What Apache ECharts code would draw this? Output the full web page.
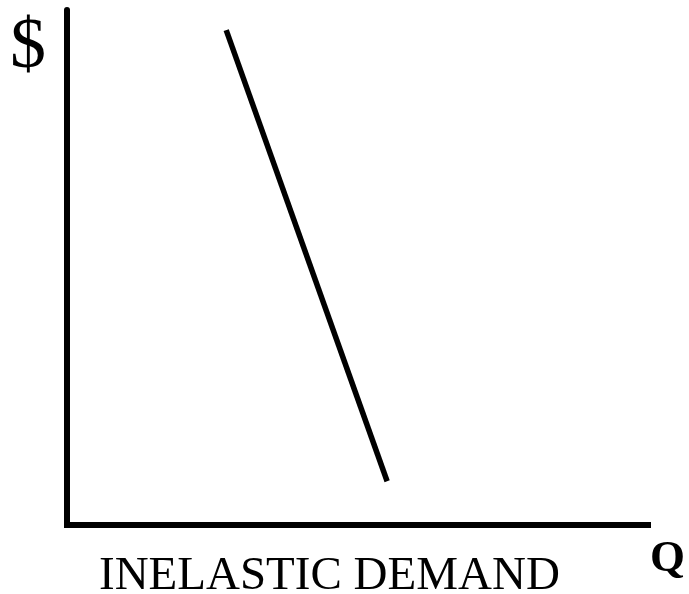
<!DOCTYPE html>
<html>
<head>
<meta charset="utf-8">
<script src="https://cdn.jsdelivr.net/npm/echarts@6/dist/echarts.min.js"></script>
<style>html,body{margin:0;padding:0;background:#fff;}#c{width:689px;height:594px;}</style>
</head>
<body>
<div id="c"></div>
<script>
const quantity = [27.4, 55.1];
const price = [96.1, 8.5];
const yAxisLabel = '$';
const xAxisLabel = 'Q';
const title = 'INELASTIC DEMAND';

const chart = echarts.init(document.getElementById('c'), null, {renderer: 'canvas'});
const serif = '"Liberation Serif", "Times New Roman", serif';
chart.setOption({
  animation: false,
  backgroundColor: '#ffffff',
  grid: {left: 67, right: 41, top: 10, bottom: 69, containLabel: false},
  xAxis: {
    type: 'value', min: 0, max: 100,
    axisLine: {show: true, lineStyle: {color: '#000', width: 6, cap: 'square'}},
    axisTick: {show: false}, axisLabel: {show: false}, splitLine: {show: false}
  },
  yAxis: {
    type: 'value', min: 0, max: 100,
    axisLine: {show: true, lineStyle: {color: '#000', width: 6}},
    axisTick: {show: false}, axisLabel: {show: false}, splitLine: {show: false}
  },
  series: [{
    type: 'line',
    data: quantity.map((q, i) => [q, price[i]]),
    symbol: 'none',
    lineStyle: {color: '#000', width: 5.5},
    silent: true
  }],
  graphic: [
    {type: 'text', left: 10, top: 12, style: {text: yAxisLabel, font: '72px ' + serif, fill: '#000'}},
    {type: 'text', left: 650, top: 537, style: {text: xAxisLabel, font: 'bold 45px ' + serif, fill: '#000'}},
    {type: 'text', left: 99, top: 553, style: {text: title, font: '47px ' + serif, fill: '#000'}}
  ]
});
</script>
</body>
</html>
